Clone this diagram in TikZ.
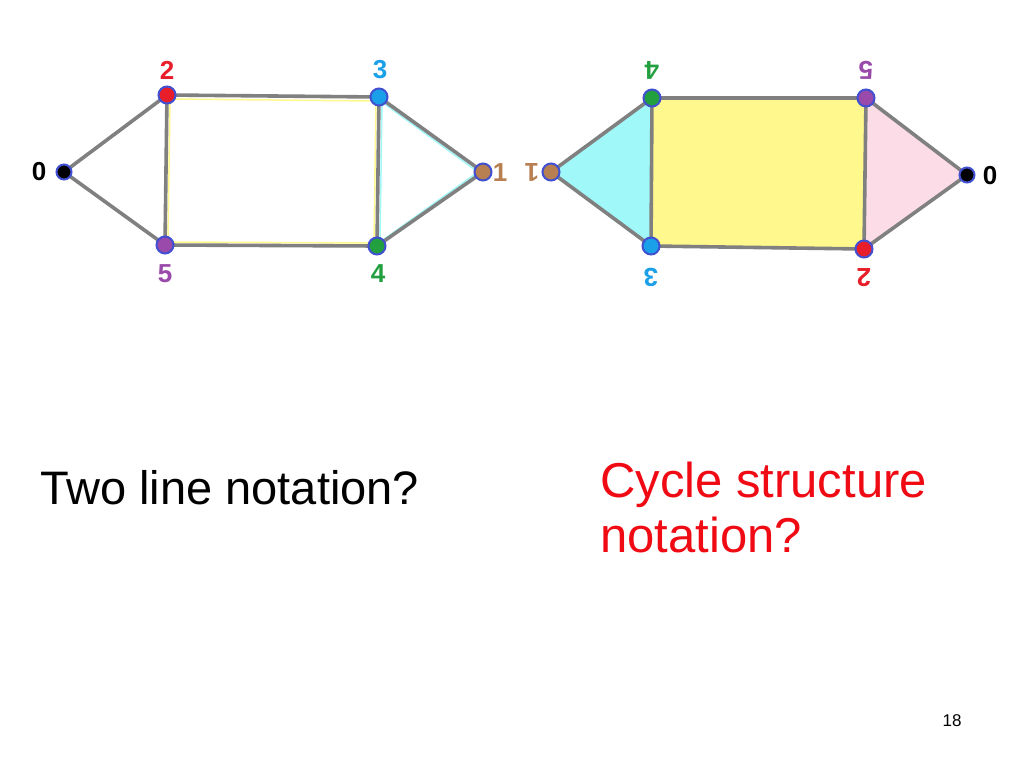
\documentclass[tikz,border=0pt]{standalone}
\usepackage{fontspec}
\setmainfont{Liberation Sans}
\begin{document}
\begin{tikzpicture}[x=1pt,y=-1pt,
  vtx/.style={circle,draw={rgb,255:red,64;green,80;blue,208},line width=2pt,minimum size=17pt,inner sep=0pt},
  edge/.style={draw={rgb,255:red,128;green,128;blue,128},line width=3.6pt},
  lbl/.style={font=\bfseries\fontsize{26}{26}\selectfont,inner sep=0pt},
  big/.style={inner sep=0pt,anchor=base west}]
\definecolor{cBrown}{RGB}{184,127,80}
\definecolor{cRed}{RGB}{232,30,42}
\definecolor{cBlue}{RGB}{26,160,232}
\definecolor{cGreen}{RGB}{34,160,64}
\definecolor{cPurple}{RGB}{154,74,170}
\definecolor{cYel}{RGB}{255,248,140}
\definecolor{cCyan}{RGB}{160,248,248}
\definecolor{cPink}{RGB}{252,220,230}
\definecolor{tRed}{RGB}{240,10,20}
\useasboundingbox (0,0) rectangle (1024,768);
\fill[white] (0,0) rectangle (1024,768);
% ---------- left graph ----------
\coordinate (L0) at (64,172);
\coordinate (L2) at (167,95);
\coordinate (L3) at (379,97);
\coordinate (L1) at (483,172);
\coordinate (L5) at (165,245);
\coordinate (L4) at (377,246);
\draw[cYel,line width=1.5pt] (170,99) -- (376,101) -- (374,243) -- (168,242) -- cycle;
\draw[cCyan,line width=1.5pt] (382,102) -- (478,172) -- (380,242) -- cycle;
\draw[edge] (L0) -- (L2) -- (L3) -- (L1) -- (L4) -- (L5) -- (L0);
\draw[edge] (L2) -- (L5);
\draw[edge] (L3) -- (L4);
\node[vtx,fill=black,minimum size=15pt] (l0) at (L0) {};
\node[vtx,fill=cBrown] (l1) at (L1) {};
\node[vtx,fill=cRed] (l2) at (L2) {};
\node[vtx,fill=cBlue] (l3) at (L3) {};
\node[vtx,fill=cGreen] (l4) at (L4) {};
\node[vtx,fill=cPurple] (l5) at (L5) {};
\node[lbl,text=black] (tl0) at (39,172) {0};
\node[lbl,text=cBrown] (tl1) at (500,173) {1};
\node[lbl,text=cRed] (tl2) at (167,70) {2};
\node[lbl,text=cBlue] (tl3) at (380,70) {3};
\node[lbl,text=cGreen] (tl4) at (378,274) {4};
\node[lbl,text=cPurple] (tl5) at (165,274) {5};
% ---------- right graph ----------
\coordinate (R1) at (551,172);
\coordinate (R4) at (652,98);
\coordinate (R5) at (866,98);
\coordinate (R0) at (967,175);
\coordinate (R3) at (651,246);
\coordinate (R2) at (864,249);
\fill[cCyan] (R1) -- (R4) -- (R3) -- cycle;
\fill[cYel] (R4) -- (R5) -- (R2) -- (R3) -- cycle;
\fill[cPink] (R5) -- (R0) -- (R2) -- cycle;
\draw[edge] (R1) -- (R4) -- (R5) -- (R0) -- (R2) -- (R3) -- (R1);
\draw[edge] (R4) -- (R3);
\draw[edge] (R5) -- (R2);
\node[vtx,fill=black,minimum size=15pt] (r0) at (R0) {};
\node[vtx,fill=cBrown] (r1) at (R1) {};
\node[vtx,fill=cRed] (r2) at (R2) {};
\node[vtx,fill=cBlue] (r3) at (R3) {};
\node[vtx,fill=cGreen] (r4) at (R4) {};
\node[vtx,fill=cPurple] (r5) at (R5) {};
\node[lbl,text=black] (tr0) at (990,176) {0};
\node[lbl,text=cBrown,rotate=180] (tr1) at (532,172) {1};
\node[lbl,text=cRed,rotate=180] (tr2) at (864,278) {2};
\node[lbl,text=cBlue,rotate=180] (tr3) at (651,277) {3};
\node[lbl,text=cGreen,rotate=180] (tr4) at (652,70) {4};
\node[lbl,text=cPurple,rotate=180] (tr5) at (866,70) {5};
% ---------- texts ----------
\node[big,text=black,font=\fontsize{47}{55}\selectfont] (two) at (40,504) {Two line notation?};
\node[big,text=tRed,align=left,anchor=north west,font=\fontsize{49}{55}\selectfont] (cyc) at (600,462) {Cycle structure\\notation?};
\node[font=\fontsize{17}{17}\selectfont,inner sep=0pt,anchor=base] (pg) at (952,726) {18};
\end{tikzpicture}
\end{document}
